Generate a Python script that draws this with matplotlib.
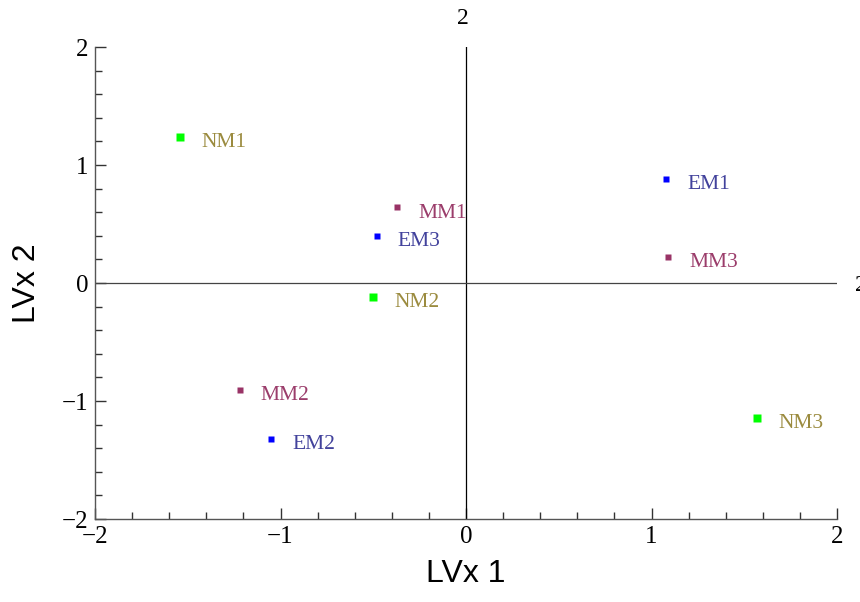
import matplotlib
matplotlib.use('Agg')
import matplotlib.pyplot as plt
from matplotlib.ticker import MultipleLocator

# sample names and their coordinates
names = ['NM1', 'NM2', 'NM3', 'EM1', 'EM2', 'EM3', 'MM1', 'MM2', 'MM3']
lvx1 = [-1.54, -0.50, 1.57, 1.08, -1.05, -0.48, -0.37, -1.22, 1.09]
lvx2 = [1.24, -0.12, -1.14, 0.88, -1.32, 0.40, 0.64, -0.91, 0.22]
groups = ['NM', 'NM', 'NM', 'EM', 'EM', 'EM', 'MM', 'MM', 'MM']

point_col = {'NM': '#00ff00', 'EM': '#0000ff', 'MM': '#993366'}
label_col = {'NM': '#9b8b3f', 'EM': '#42429c', 'MM': '#9b3d6b'}
point_size = {'NM': 5.5, 'EM': 5, 'MM': 4}

fig = plt.figure(figsize=(8.6, 6.02), dpi=100)
ax = fig.add_axes([95/860, 1 - 519/602, (837 - 95)/860, (519 - 47)/602])

ax.set_xlim(-2, 2)
ax.set_ylim(-2, 2)

# axes through the origin
ax.axvline(0, color='black', lw=0.9)
ax.axhline(0, color='#444444', lw=0.9)

for n, x, y, g in zip(names, lvx1, lvx2, groups):
    ax.plot(x, y, 's', color=point_col[g], markersize=point_size[g], mec='none')
    ax.annotate(n, (x, y), xytext=(15, -4), textcoords='offset points',
                ha='left', va='center', color=label_col[g],
                family='Liberation Serif', fontsize=15.5)

for s in ['top', 'right']:
    ax.spines[s].set_visible(False)
for s in ['left', 'bottom']:
    ax.spines[s].set_color('#555555')
    ax.spines[s].set_linewidth(1.0)

ax.xaxis.set_major_locator(MultipleLocator(1))
ax.yaxis.set_major_locator(MultipleLocator(1))
ax.xaxis.set_minor_locator(MultipleLocator(0.2))
ax.yaxis.set_minor_locator(MultipleLocator(0.2))
ax.tick_params(which='major', direction='in', length=8, width=1, color='#333333',
               labelsize=18, pad=5)
ax.tick_params(which='minor', direction='in', length=5, width=1, color='#333333')
for lab in ax.get_xticklabels() + ax.get_yticklabels():
    lab.set_family('Liberation Serif')

ax.set_xlabel('LVx 1', family='Liberation Sans', fontsize=23, labelpad=8)
ax.set_ylabel('LVx 2', family='Liberation Sans', fontsize=23, labelpad=14)

# stray labels at the ends of the origin lines
fig.text(463/860, 1 - 18/602, '2', family='Liberation Serif', fontsize=17,
         ha='center', va='center')
fig.text(855/860, 1 - 285/602, '2', family='Liberation Serif', fontsize=17,
         ha='left', va='center')

fig.savefig('out.png', dpi=100)
